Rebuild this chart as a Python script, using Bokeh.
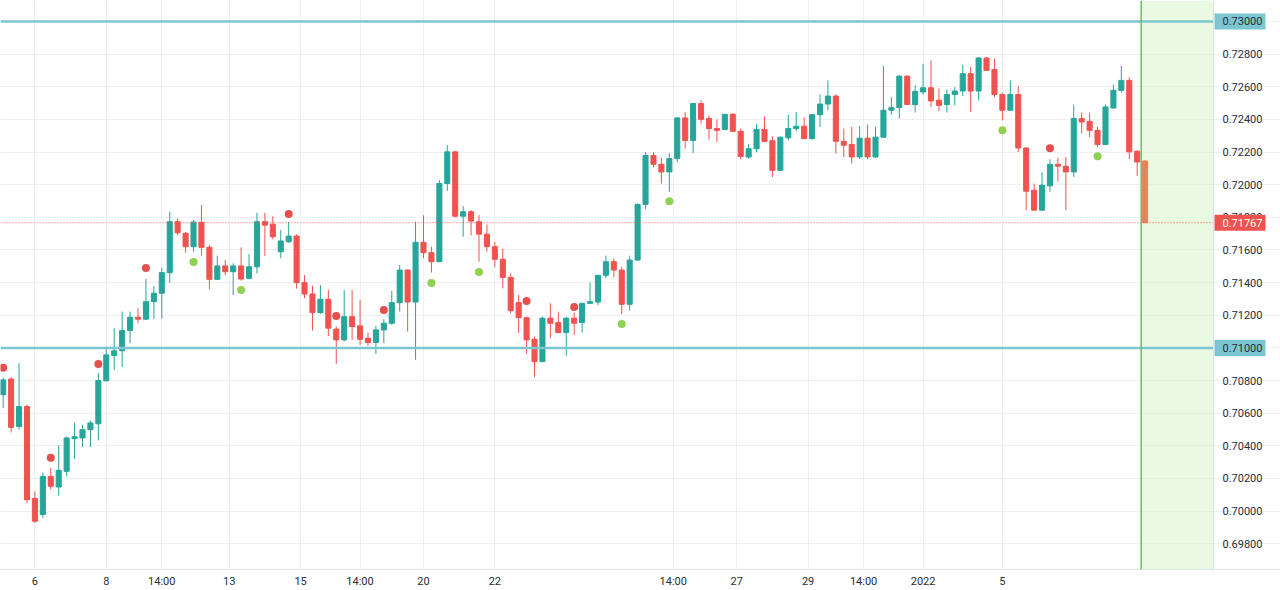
from bokeh.plotting import figure
from bokeh.models import Range1d, FixedTicker, Span, BoxAnnotation, ColumnDataSource
from bokeh.core.properties import value
from bokeh.embed import file_html
from bokeh.resources import INLINE

# ---- 4H candles (open, high, low, close) ----
opens = [
    0.70713, 0.70809, 0.70519, 0.70641, 0.70077, 0.69979, 0.70213, 0.70148, 0.70244, 0.70444,
    0.70448, 0.70499, 0.70535, 0.70798, 0.70953, 0.70982, 0.71106, 0.71188, 0.71176, 0.71283,
    0.71335, 0.71461, 0.71773, 0.71702, 0.71620, 0.71769, 0.71616, 0.71420, 0.71502, 0.71467,
    0.71502, 0.71426, 0.71497, 0.71773, 0.71758, 0.71589, 0.71650, 0.71685, 0.71400, 0.71330,
    0.71216, 0.71298, 0.71115, 0.71049, 0.71191, 0.71135, 0.71059, 0.71033, 0.71110, 0.71151,
    0.71277, 0.71477, 0.71281, 0.71647, 0.71583, 0.71528, 0.72007, 0.72201, 0.71807, 0.71834,
    0.71773, 0.71697, 0.71620, 0.71543, 0.71432, 0.71277, 0.71185, 0.71053, 0.70916, 0.71182,
    0.71155, 0.71094, 0.71182, 0.71155, 0.71273, 0.71281, 0.71445, 0.71528, 0.71477, 0.71267,
    0.71538, 0.71879, 0.72179, 0.72125, 0.72078, 0.72160, 0.72409, 0.72271, 0.72497, 0.72405,
    0.72344, 0.72338, 0.72431, 0.72327, 0.72169, 0.72220, 0.72339, 0.72269, 0.72088, 0.72287,
    0.72344, 0.72358, 0.72282, 0.72429, 0.72494, 0.72543, 0.72265, 0.72246, 0.72170, 0.72285,
    0.72170, 0.72291, 0.72456, 0.72472, 0.72665, 0.72491, 0.72568, 0.72594, 0.72517, 0.72491,
    0.72552, 0.72574, 0.72680, 0.72574, 0.72776, 0.72706, 0.72552, 0.72456, 0.72552, 0.72225,
    0.71966, 0.71844, 0.71993, 0.72125, 0.72113, 0.72078, 0.72405, 0.72388, 0.72333, 0.72246,
    0.72470, 0.72578, 0.72639, 0.72205, 0.72145,
]
highs = [
    0.70817, 0.70821, 0.70907, 0.70651, 0.70121, 0.70237, 0.70264, 0.70403, 0.70458, 0.70543,
    0.70529, 0.70555, 0.70847, 0.71008, 0.71121, 0.71222, 0.71222, 0.71243, 0.71422, 0.71379,
    0.71489, 0.71834, 0.71793, 0.71711, 0.71783, 0.71875, 0.71630, 0.71565, 0.71538, 0.71518,
    0.71616, 0.71575, 0.71827, 0.71827, 0.71807, 0.71722, 0.71773, 0.71697, 0.71447, 0.71381,
    0.71385, 0.71355, 0.71131, 0.71355, 0.71355, 0.71294, 0.71094, 0.71135, 0.71176, 0.71350,
    0.71508, 0.71480, 0.71773, 0.71813, 0.71620, 0.72028, 0.72242, 0.72207, 0.71868, 0.71844,
    0.71813, 0.71757, 0.71650, 0.71607, 0.71457, 0.71324, 0.71191, 0.71069, 0.71191, 0.71273,
    0.71222, 0.71191, 0.71216, 0.71277, 0.71400, 0.71447, 0.71565, 0.71549, 0.71497, 0.71565,
    0.71885, 0.72201, 0.72201, 0.72164, 0.72194, 0.72415, 0.72445, 0.72500, 0.72517, 0.72425,
    0.72399, 0.72433, 0.72439, 0.72344, 0.72250, 0.72374, 0.72419, 0.72297, 0.72295, 0.72429,
    0.72445, 0.72411, 0.72432, 0.72553, 0.72639, 0.72553, 0.72344, 0.72354, 0.72360, 0.72368,
    0.72354, 0.72727, 0.72537, 0.72670, 0.72670, 0.72609, 0.72741, 0.72761, 0.72588, 0.72584,
    0.72598, 0.72735, 0.72721, 0.72782, 0.72782, 0.72772, 0.72564, 0.72639, 0.72604, 0.72228,
    0.72007, 0.72075, 0.72156, 0.72164, 0.72170, 0.72491, 0.72442, 0.72442, 0.72354, 0.72491,
    0.72613, 0.72727, 0.72659, 0.72211, 0.72150,
]
lows = [
    0.70633, 0.70482, 0.70499, 0.70050, 0.69928, 0.69959, 0.70132, 0.70095, 0.70213, 0.70319,
    0.70393, 0.70393, 0.70433, 0.70794, 0.70864, 0.70883, 0.71029, 0.71151, 0.71170, 0.71176,
    0.71178, 0.71400, 0.71691, 0.71583, 0.71589, 0.71565, 0.71359, 0.71416, 0.71447, 0.71324,
    0.71412, 0.71420, 0.71457, 0.71563, 0.71665, 0.71549, 0.71644, 0.71363, 0.71304, 0.71106,
    0.71208, 0.71073, 0.70902, 0.71039, 0.71049, 0.71018, 0.71012, 0.70963, 0.71029, 0.71141,
    0.71222, 0.71100, 0.70927, 0.71549, 0.71461, 0.71525, 0.71962, 0.71799, 0.71681, 0.71689,
    0.71528, 0.71589, 0.71494, 0.71365, 0.71210, 0.71090, 0.70963, 0.70821, 0.70912, 0.71059,
    0.71090, 0.70953, 0.71080, 0.71094, 0.71270, 0.71263, 0.71426, 0.71432, 0.71208, 0.71228,
    0.71535, 0.71850, 0.72105, 0.72007, 0.71956, 0.72139, 0.72221, 0.72193, 0.72374, 0.72276,
    0.72261, 0.72333, 0.72323, 0.72155, 0.72159, 0.72199, 0.72259, 0.72047, 0.72084, 0.72271,
    0.72327, 0.72280, 0.72276, 0.72353, 0.72456, 0.72191, 0.72169, 0.72130, 0.72156, 0.72156,
    0.72164, 0.72287, 0.72429, 0.72405, 0.72490, 0.72442, 0.72552, 0.72476, 0.72450, 0.72442,
    0.72486, 0.72543, 0.72445, 0.72517, 0.72698, 0.72537, 0.72394, 0.72453, 0.72201, 0.71844,
    0.71842, 0.71840, 0.71956, 0.72021, 0.71844, 0.72048, 0.72313, 0.72292, 0.72231, 0.72243,
    0.72468, 0.72564, 0.72156, 0.72054, 0.71767,
]
closes = [
    0.70804, 0.70513, 0.70641, 0.70070, 0.69938, 0.70213, 0.70152, 0.70250, 0.70448, 0.70456,
    0.70499, 0.70540, 0.70800, 0.70957, 0.70982, 0.71106, 0.71188, 0.71176, 0.71283, 0.71335,
    0.71461, 0.71773, 0.71705, 0.71620, 0.71771, 0.71616, 0.71420, 0.71502, 0.71467, 0.71502,
    0.71422, 0.71497, 0.71773, 0.71752, 0.71681, 0.71655, 0.71685, 0.71400, 0.71330, 0.71216,
    0.71298, 0.71121, 0.71049, 0.71191, 0.71131, 0.71053, 0.71033, 0.71110, 0.71151, 0.71277,
    0.71477, 0.71281, 0.71647, 0.71583, 0.71528, 0.72007, 0.72201, 0.71807, 0.71834, 0.71777,
    0.71697, 0.71620, 0.71543, 0.71432, 0.71228, 0.71185, 0.71049, 0.70916, 0.71182, 0.71151,
    0.71094, 0.71182, 0.71151, 0.71273, 0.71283, 0.71445, 0.71528, 0.71477, 0.71267, 0.71538,
    0.71879, 0.72179, 0.72125, 0.72078, 0.72160, 0.72409, 0.72271, 0.72497, 0.72400, 0.72344,
    0.72333, 0.72431, 0.72327, 0.72173, 0.72220, 0.72339, 0.72265, 0.72088, 0.72291, 0.72344,
    0.72358, 0.72282, 0.72429, 0.72494, 0.72543, 0.72266, 0.72242, 0.72170, 0.72285, 0.72170,
    0.72291, 0.72456, 0.72472, 0.72665, 0.72491, 0.72572, 0.72594, 0.72513, 0.72486, 0.72552,
    0.72574, 0.72680, 0.72574, 0.72776, 0.72700, 0.72552, 0.72456, 0.72552, 0.72225, 0.71960,
    0.71844, 0.71997, 0.72124, 0.72113, 0.72078, 0.72405, 0.72384, 0.72333, 0.72246, 0.72476,
    0.72578, 0.72639, 0.72201, 0.72139, 0.71767,
]

# ---- swing signals (bar index, price) ----
sell_bars = [0, 6, 12, 18, 36, 42, 48, 66, 72, 132]
sell_prices = [0.70878, 0.70327, 0.70902, 0.71489, 0.71820, 0.71196, 0.71232, 0.71287, 0.71251, 0.72223]
buy_bars = [24, 30, 54, 60, 78, 84, 126, 138]
buy_prices = [0.71526, 0.71355, 0.71398, 0.71465, 0.71147, 0.71899, 0.72333, 0.72174]

# ---- horizontal levels and last price ----
levels = [0.73000, 0.71000]
last_price = 0.71767

# ---- axis ticks ----
price_ticks = [0.698, 0.700, 0.702, 0.704, 0.706, 0.708, 0.710, 0.712, 0.714,
               0.716, 0.718, 0.720, 0.722, 0.724, 0.726, 0.728, 0.730]
time_tick_bars = [4, 13, 20, 28.5, 37.5, 45, 53, 62, 84.5, 92.5, 101.5, 108.5, 116, 126]
time_tick_labels = ["6", "8", "14:00", "13", "15", "14:00", "20", "22",
                    "14:00", "27", "29", "14:00", "2022", "5"]

UP = "#26a69a"
DOWN = "#ef5350"
LIVE = "#e5845c"
LEVEL = "#7cc6d2"
FONT = "Roboto"
TEXT = "#2a2e39"
SEPARATOR = "#e0e3eb"

bars = list(range(len(opens)))
colors = [UP if c >= o else DOWN for o, c in zip(opens, closes)]
colors[-1] = LIVE

src = ColumnDataSource(dict(
    x=bars, high=highs, low=lows,
    top=[max(o, c) for o, c in zip(opens, closes)],
    bottom=[min(o, c) for o, c in zip(opens, closes)],
    color=colors,
))

# bar axis: ~7.93 px per bar, the price scale occupies the right-hand strip
WIDTH = 1280
x_start = -0.34
chart_end = 152.62
x_end = 161.07
bars_per_px = (x_end - x_start) / WIDTH

p = figure(width=WIDTH, height=590,
           x_range=Range1d(x_start, x_end),
           y_range=Range1d(0.696422, 0.731284),
           y_axis_location=None,
           toolbar_location=None, output_backend="svg",
           min_border_left=0, min_border_top=0,
           min_border_right=0, min_border_bottom=20)

p.background_fill_color = "white"
p.border_fill_color = "white"
p.outline_line_color = None

# grid (kept to the chart pane)
p.xgrid.ticker = FixedTicker(ticks=time_tick_bars)
p.ygrid.ticker = FixedTicker(ticks=price_ticks)
p.ygrid.bounds = (x_start, chart_end)
p.xgrid.grid_line_color = "#eef0f4"
p.ygrid.grid_line_color = "#eef0f4"

# current session highlight
live_left = len(bars) - 1.5
p.add_layout(BoxAnnotation(left=live_left, right=chart_end, fill_color="#d6f6c6",
                           fill_alpha=0.5, line_color=None, level="underlay"))

# candles
p.segment("x", "high", "x", "low", color="color", line_width=1, source=src)
p.vbar(x="x", width=0.64, top="top", bottom="bottom",
       fill_color="color", line_color="color", line_width=1, source=src)

# signals
p.scatter(sell_bars, sell_prices, size=8, color="#e54f4f", line_color=None)
p.scatter(buy_bars, buy_prices, size=8, color="#8fd24f", line_color=None)

# level lines and last-price line across the chart pane
p.segment([x_start] * len(levels), levels, [chart_end] * len(levels), levels,
          line_color=LEVEL, line_width=2.5)
p.segment([x_start], [last_price], [chart_end], [last_price],
          line_color=DOWN, line_width=1, line_dash="1 2")
p.add_layout(Span(location=live_left, dimension="height", line_color="#6dbb5a",
                  line_width=1.5))
# price-scale separator
p.add_layout(Span(location=chart_end, dimension="height", line_color=SEPARATOR,
                  line_width=1))

# time axis
xa = p.xaxis[0]
xa.ticker = FixedTicker(ticks=time_tick_bars)
xa.major_label_overrides = {b: t for b, t in zip(time_tick_bars, time_tick_labels)}
xa.axis_line_color = SEPARATOR
xa.major_tick_line_color = None
xa.major_tick_out = 0
xa.major_tick_in = 0
xa.minor_tick_line_color = None
xa.minor_tick_out = 0
xa.major_label_text_font = FONT
xa.major_label_text_font_size = "11px"
xa.major_label_text_color = TEXT
xa.major_label_standoff = 5

# price scale labels
label_kw = dict(x_offset=9, text_align="left", text_baseline="middle",
                text_font=value(FONT), text_font_size="11px")
p.text(x=[chart_end] * len(price_ticks), y=price_ticks,
       text=[f"{t:.5f}" for t in price_ticks], text_color=TEXT, **label_kw)

# price tags on the scale
tag_prices = levels + [last_price]
tag_fill = [LEVEL] * len(levels) + [DOWN]
tag_text_color = [TEXT] * len(levels) + ["white"]
tag_center = chart_end + 26.5 * bars_per_px
p.rect(x=[tag_center] * len(tag_prices), y=tag_prices, width=51, height=16,
       width_units="screen", height_units="screen",
       fill_color=tag_fill, line_color=None)
p.text(x=[chart_end] * len(tag_prices), y=tag_prices,
       text=[f"{t:.5f}" for t in tag_prices], text_color=tag_text_color, **label_kw)

open("out.html", "w").write(file_html(p, INLINE))
